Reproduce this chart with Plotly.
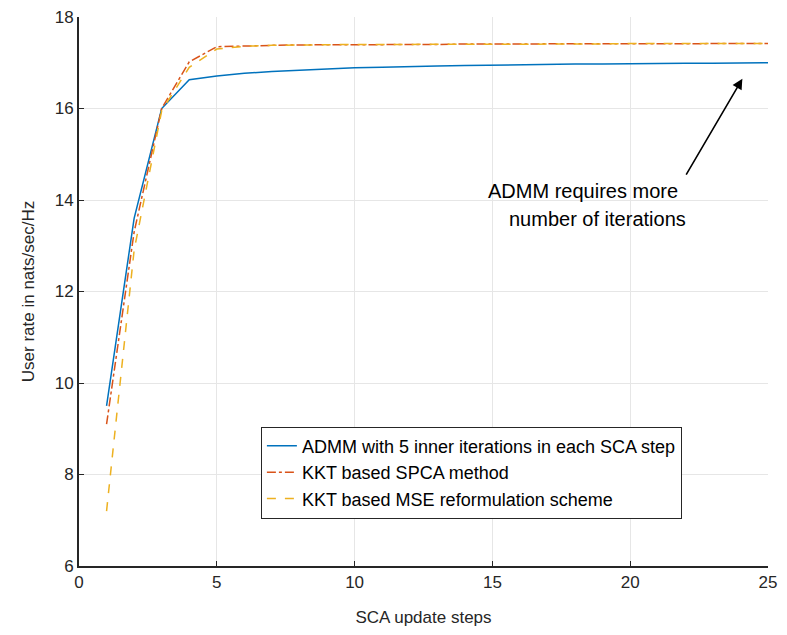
import plotly.graph_objects as go

steps = list(range(1, 26))
admm = [9.5, 13.6, 16.0, 16.63, 16.71, 16.77, 16.81, 16.84, 16.87, 16.89, 16.9, 16.92, 16.93, 16.94, 16.95,
        16.96, 16.96, 16.97, 16.97, 16.98, 16.98, 16.99, 16.99, 17.0, 17.0]
spca = [9.1, 13.3, 16.0, 17.02, 17.35, 17.37, 17.38, 17.39, 17.39, 17.4, 17.4, 17.4, 17.4, 17.41, 17.41,
        17.41, 17.41, 17.41, 17.41, 17.42, 17.42, 17.42, 17.42, 17.42, 17.42]
mse = [7.2, 12.9, 15.95, 16.9, 17.3, 17.36, 17.38, 17.39, 17.39, 17.4, 17.4, 17.4, 17.4, 17.41, 17.41,
       17.41, 17.41, 17.41, 17.41, 17.42, 17.42, 17.42, 17.42, 17.42, 17.42]
names = ["ADMM with 5 inner iterations in each SCA step",
         "KKT based SPCA method",
         "KKT based MSE reformulation scheme"]
xticks = [0, 5, 10, 15, 20, 25]
yticks = [6, 8, 10, 12, 14, 16, 18]

fig = go.Figure()
fig.add_trace(go.Scatter(x=steps, y=admm, mode="lines", name=names[0],
                         line=dict(color="#0072BD", width=1.5)))
fig.add_trace(go.Scatter(x=steps, y=spca, mode="lines", name=names[1],
                         line=dict(color="#D95319", width=1.5, dash="dashdot")))
fig.add_trace(go.Scatter(x=steps, y=mse, mode="lines", name=names[2],
                         line=dict(color="#EDB120", width=1.5, dash="dash")))

font = "Liberation Sans, Arial, sans-serif"
fig.update_layout(
    width=771, height=619,
    margin=dict(l=71, r=11, t=9, b=61),
    plot_bgcolor="white", paper_bgcolor="white",
    font=dict(family=font, size=16, color="#262626"),
    showlegend=True,
    legend=dict(x=0.264, y=0.254, xanchor="left", yanchor="top",
                bgcolor="white", bordercolor="#262626", borderwidth=1,
                font=dict(size=18, color="#000000"), tracegroupgap=0),
    xaxis=dict(range=[0, 25], tickvals=xticks, showgrid=True, gridcolor="#e6e6e6",
               showline=True, linecolor="#262626", linewidth=2, ticks="inside", ticklen=5,
               tickcolor="#262626", zeroline=False, automargin=False, ticklabeloverflow="allow",
               title=dict(text="SCA update steps", font=dict(size=17), standoff=23),
               tickfont=dict(size=17)),
    yaxis=dict(range=[6, 18], tickvals=yticks, showgrid=True, gridcolor="#e6e6e6",
               showline=True, linecolor="#262626", linewidth=2, ticks="inside", ticklen=5,
               tickcolor="#262626", zeroline=False, automargin=False, ticklabeloverflow="allow",
               title=dict(text="User rate in nats/sec/Hz", font=dict(size=17), standoff=16),
               tickfont=dict(size=17)),
)

fig.add_annotation(x=24.07, y=16.65, ax=22.0, ay=14.52, xref="x", yref="y", axref="x", ayref="y",
                   text="", showarrow=True, arrowhead=2, arrowsize=1.3, arrowwidth=1.6,
                   arrowcolor="#000000")
fig.add_annotation(x=18.3, y=14.19, xref="x", yref="y", showarrow=False,
                   text="ADMM requires more",
                   font=dict(size=20, color="#000000"))
fig.add_annotation(x=18.8, y=13.58, xref="x", yref="y", showarrow=False,
                   text="number of iterations",
                   font=dict(size=20, color="#000000"))

fig.write_html("out.html")
